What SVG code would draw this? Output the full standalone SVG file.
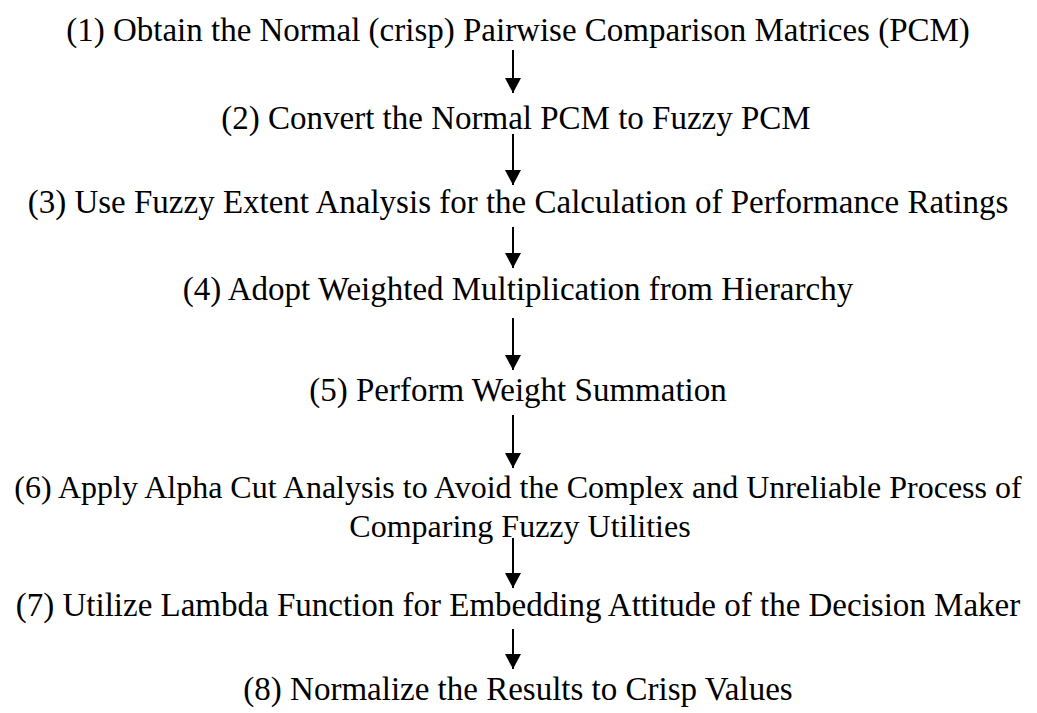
<svg xmlns="http://www.w3.org/2000/svg" width="1037" height="713" viewBox="0 0 1037 713">
<style>
text{font-family:"Liberation Serif","Times New Roman",serif;font-size:33px;fill:#000;text-anchor:middle}
#n6 text{font-size:32px}
.c line{stroke:#000;stroke-width:2}
</style>
<defs>
<marker id="ah" markerUnits="userSpaceOnUse" markerWidth="16" markerHeight="16" refX="15" refY="8" orient="auto">
<path d="M0,0 L15,8 L0,16 Z" fill="#000"/>
</marker>
</defs>
<rect width="1037" height="713" fill="#fff"/>
<g id="n1"><text x="518" y="41">(1) Obtain the Normal (crisp) Pairwise Comparison Matrices (PCM)</text></g>
<g id="n2"><text x="516" y="129">(2) Convert the Normal PCM to Fuzzy PCM</text></g>
<g id="n3"><text x="518" y="213">(3) Use Fuzzy Extent Analysis for the Calculation of Performance Ratings</text></g>
<g id="n4"><text x="518" y="300">(4) Adopt Weighted Multiplication from Hierarchy</text></g>
<g id="n5"><text x="518" y="401">(5) Perform Weight Summation</text></g>
<g id="n6"><text x="518" y="498">(6) Apply Alpha Cut Analysis to Avoid the Complex and Unreliable Process of</text><text x="520" y="537">Comparing Fuzzy Utilities</text></g>
<g id="n7"><text x="518" y="616">(7) Utilize Lambda Function for Embedding Attitude of the Decision Maker</text></g>
<g id="n8"><text x="518" y="700">(8) Normalize the Results to Crisp Values</text></g>
<g id="connectors" class="c">
<line x1="513" y1="50" x2="513" y2="93" marker-end="url(#ah)"/>
<line x1="513" y1="134" x2="513" y2="185" marker-end="url(#ah)"/>
<line x1="513" y1="227" x2="513" y2="268" marker-end="url(#ah)"/>
<line x1="513" y1="318" x2="513" y2="370" marker-end="url(#ah)"/>
<line x1="513" y1="415" x2="513" y2="468" marker-end="url(#ah)"/>
<line x1="513" y1="538" x2="513" y2="588" marker-end="url(#ah)"/>
<line x1="513" y1="629" x2="513" y2="669" marker-end="url(#ah)"/>
</g>
</svg>
